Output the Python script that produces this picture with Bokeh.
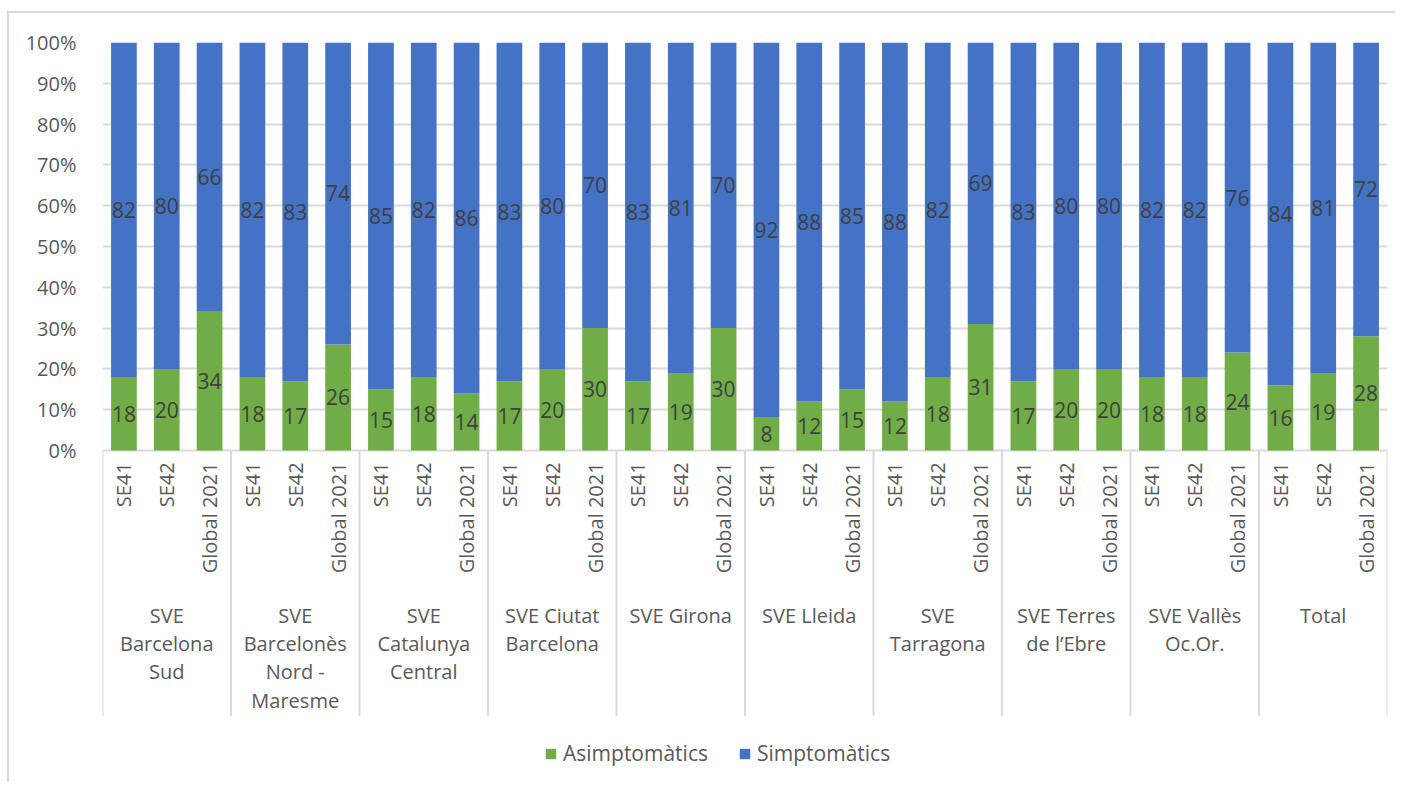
import math
from bokeh.plotting import figure
from bokeh.models import ColumnDataSource, FixedTicker, Range1d, Legend, LegendItem, NumeralTickFormatter
from bokeh.core.properties import value
from bokeh.embed import file_html
from bokeh.resources import INLINE

groups = ["SVE\nBarcelona\nSud", "SVE\nBarcelonès\nNord -\nMaresme", "SVE\nCatalunya\nCentral",
          "SVE Ciutat\nBarcelona", "SVE Girona", "SVE Lleida", "SVE\nTarragona",
          "SVE Terres\nde l’Ebre", "SVE Vallès\nOc.Or.", "Total"]
subcats = ["SE41", "SE42", "Global 2021"]
asimptomatics = [18, 20, 34, 18, 17, 26, 15, 18, 14, 17, 20, 30, 17, 19, 30,
                 8, 12, 15, 12, 18, 31, 17, 20, 20, 18, 18, 24, 16, 19, 28]
simptomatics = [82, 80, 66, 82, 83, 74, 85, 82, 86, 83, 80, 70, 83, 81, 70,
                92, 88, 85, 88, 82, 69, 83, 80, 80, 82, 82, 76, 84, 81, 72]
yticks = [0, 0.1, 0.2, 0.3, 0.4, 0.5, 0.6, 0.7, 0.8, 0.9, 1.0]

GREEN = "#70AD47"
BLUE = "#4472C4"
AXIS_TXT = "#595959"
LBL_TXT = "#404040"
GRID = "#D9D9D9"
FONT = "Open Sans"

n = len(asimptomatics)
xs = list(range(n))
asym_f = [a / 100 for a in asimptomatics]
simp_f = [s / 100 for s in simptomatics]

src = ColumnDataSource(dict(
    x=xs,
    asym=asym_f,
    simp=simp_f,
    sub=[subcats[i % 3] for i in xs],
    asym_y=[a / 2 for a in asym_f],
    simp_y=[a + s / 2 for a, s in zip(asym_f, simp_f)],
    asym_lbl=[str(a) for a in asimptomatics],
    simp_lbl=[str(s) for s in simptomatics],
))

p = figure(width=1388, height=770, output_backend="svg", toolbar_location=None,
           x_axis_type=None, min_border_left=93, min_border_right=10,
           min_border_top=29, min_border_bottom=3,
           x_range=Range1d(-0.5, n - 0.5), y_range=Range1d(-0.8088, 1.0))
p.outline_line_color = None
p.xgrid.visible = False
p.ygrid.ticker = FixedTicker(ticks=yticks)
p.ygrid.grid_line_color = GRID
p.ygrid.grid_line_width = 2
p.yaxis.ticker = FixedTicker(ticks=yticks)
p.yaxis.formatter = NumeralTickFormatter(format="0%")
p.yaxis.axis_line_color = None
p.yaxis.major_tick_line_color = None
p.yaxis.minor_tick_line_color = None
p.yaxis.major_label_standoff = 20
p.yaxis.major_label_text_font = FONT
p.yaxis.major_label_text_font_size = "20px"
p.yaxis.major_label_text_color = AXIS_TXT
p.styles = {"border-top": "2px solid #D9D9D9", "border-left": "2px solid #D9D9D9",
            "margin-top": "11px", "margin-left": "7px"}

rs = p.vbar_stack(["asym", "simp"], x="x", width=0.6, source=src,
                  color=[GREEN, BLUE], line_color=None)

# data labels
p.text(x="x", y="asym_y", text="asym_lbl", source=src, text_align="center", text_baseline="middle",
       text_font=value(FONT), text_font_size="21px", text_color=LBL_TXT)
p.text(x="x", y="simp_y", text="simp_lbl", source=src, text_align="center", text_baseline="middle",
       text_font=value(FONT), text_font_size="21px", text_color=LBL_TXT)

# category axis: separators
ng = len(groups)
sep_x = [g * 3 - 0.5 for g in range(ng + 1)]
p.segment(x0=sep_x, y0=[0] * len(sep_x), x1=sep_x, y1=[-0.65] * len(sep_x),
          line_color=GRID, line_width=2)

# sub labels (rotated)
p.text(x="x", y=-0.029, text="sub", source=src, angle=math.pi / 2, text_align="right",
       text_baseline="middle", text_font=value(FONT), text_font_size="20px", text_color=AXIS_TXT)

# group labels
gx = [g * 3 + 1 for g in range(ng)]
p.text(x=gx, y=[-0.372] * ng, text=groups, text_align="center", text_baseline="top",
       text_font=value(FONT), text_font_size="20px", text_color=AXIS_TXT, text_line_height=1.04)

legend = Legend(items=[LegendItem(label="Asimptomàtics", renderers=[rs[0]]),
                       LegendItem(label="Simptomàtics", renderers=[rs[1]])],
                orientation="horizontal", location=(442, 13),
                label_text_font=FONT, label_text_font_size="21px", label_text_color=AXIS_TXT,
                glyph_width=13, glyph_height=13, label_standoff=6, spacing=30,
                padding=0, margin=0, border_line_color=None, background_fill_alpha=0)
p.add_layout(legend)

open("out.html", "w").write(file_html(p, INLINE))
